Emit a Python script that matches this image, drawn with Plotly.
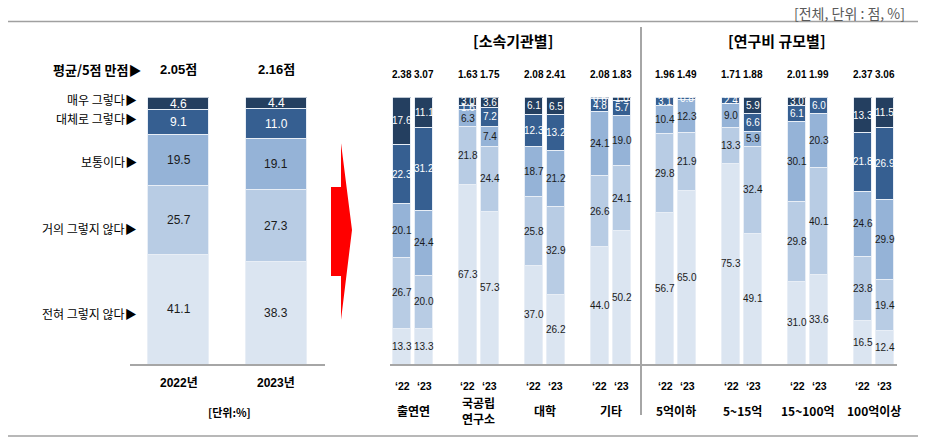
import plotly.graph_objects as go

W, H = 929, 445
FONT = "Liberation Sans, Arial, Noto Sans CJK KR, sans-serif"
KFONT = "Noto Sans CJK KR, Liberation Sans, sans-serif"

# ---- data ----
levels = ["전혀 그렇지 않다", "거의 그렇지 않다", "보통이다", "대체로 그렇다", "매우 그렇다"]
colors = ["#DBE5F1", "#B8CCE4", "#95B3D7", "#365F91", "#243F60"]
text_colors = ["#1a1a1a", "#1a1a1a", "#1a1a1a", "white", "white"]

# left panel: overall
years = ["2022년", "2023년"]
total_never = [41.1, 38.3]
total_hardly = [25.7, 27.3]
total_neutral = [19.5, 19.1]
total_mostly = [9.1, 11.0]
total_very = [4.6, 4.4]
total_mean = ["2.05점", "2.16점"]

# right panel: by group
groups = ["출연연", "국공립<br>연구소", "대학", "기타", "5억이하", "5~15억", "15~100억", "100억이상"]
year_ticks = ["‘22", "‘23"]
grp_never = [13.3, 13.3, 67.3, 57.3, 37.0, 26.2, 44.0, 50.2, 56.7, 65.0, 75.3, 49.1, 31.0, 33.6, 16.5, 12.4]
grp_hardly = [26.7, 20.0, 21.8, 24.4, 25.8, 32.9, 26.6, 24.1, 29.8, 21.9, 13.3, 32.4, 29.8, 40.1, 23.8, 19.4]
grp_neutral = [20.1, 24.4, 6.3, 7.4, 18.7, 21.2, 24.1, 19.0, 10.4, 12.3, 9.0, 5.9, 30.1, 20.3, 24.6, 29.9]
grp_mostly = [22.3, 31.2, 1.6, 7.2, 12.3, 13.2, 4.8, 5.7, 3.1, 0.8, 2.4, 6.6, 6.1, 6.0, 21.8, 26.9]
grp_very = [17.6, 11.1, 3.0, 3.6, 6.1, 6.5, 0.6, 1.0, 0, 0, 0, 5.9, 3.0, 0, 13.3, 11.5]
grp_mean = [2.38, 3.07, 1.63, 1.75, 2.08, 2.41, 2.08, 1.83,
            1.96, 1.49, 1.71, 1.88, 2.01, 1.99, 2.37, 3.06]


def px(x):
    return x / W


def py(y):
    return 1 - y / H


fig = go.Figure()
ann = []

# ---- left panel bars ----
left_series = [total_never, total_hardly, total_neutral, total_mostly, total_very]
left_x = list(range(len(years)))
for k, vals in enumerate(left_series):
    fig.add_trace(go.Bar(
        x=left_x, y=vals, width=0.63, marker=dict(color=colors[k], line=dict(color="#E8EEF6", width=1)),
        xaxis="x", yaxis="y", showlegend=False, hoverinfo="skip",
    ))
for i in left_x:
    base = 0
    for k, vals in enumerate(left_series):
        v = vals[i]
        ann.append(dict(x=i, y=base + v / 2, xref="x", yref="y", text=f"{v:.1f}",
                        showarrow=False, xanchor="center", yanchor="middle",
                        font=dict(size=12, color=text_colors[k], family=FONT)))
        base += v
    ann.append(dict(x=i, y=py(70), xref="x", yref="paper", text=f"<b>{total_mean[i]}</b>",
                    showarrow=False, xanchor="center", yanchor="middle",
                    font=dict(size=13, color="black", family=FONT)))
    ann.append(dict(x=i, y=py(383), xref="x", yref="paper", text=f"<b>{years[i]}</b>",
                    showarrow=False, xanchor="center", yanchor="middle",
                    font=dict(size=12, color="black", family=FONT)))

# left side category labels
ann.append(dict(x=px(143), y=py(70), xref="paper", yref="paper", xanchor="right", yanchor="middle",
                text="<b>평균/5점 만점▶</b>", showarrow=False,
                font=dict(size=13, color="black", family=KFONT)))
for name, ypos in zip(levels, [313, 229, 162, 118, 99]):
    ann.append(dict(x=px(139), y=py(ypos), xref="paper", yref="paper", xanchor="right", yanchor="middle",
                    text=name + "▶", showarrow=False,
                    font=dict(size=12, color="black", family=KFONT)))
ann.append(dict(x=px(229), y=py(412), xref="paper", yref="paper", xanchor="center", yanchor="middle",
                text="<b>[단위:%]</b>", showarrow=False,
                font=dict(size=11, color="black", family=KFONT)))

# ---- right panel bars ----
right_series = [grp_never, grp_hardly, grp_neutral, grp_mostly, grp_very]
right_x = []
for g in range(len(groups)):
    right_x += [g - 0.167, g + 0.167]
for k, vals in enumerate(right_series):
    fig.add_trace(go.Bar(
        x=right_x, y=vals, width=0.275, marker=dict(color=colors[k], line=dict(color="#E8EEF6", width=1)),
        xaxis="x2", yaxis="y", showlegend=False, hoverinfo="skip",
    ))
for i, xv in enumerate(right_x):
    base = 0
    for k, vals in enumerate(right_series):
        v = vals[i]
        if v > 0:
            ann.append(dict(x=xv, y=base + v / 2, xref="x2", yref="y", text=f"{v:.1f}",
                            showarrow=False, xanchor="center", yanchor="middle",
                            font=dict(size=10, color=text_colors[k], family=FONT)))
        base += v
    ann.append(dict(x=xv, y=py(74), xref="x2", yref="paper", text=f"<b>{grp_mean[i]:.2f}</b>",
                    showarrow=False, xanchor="center", yanchor="middle",
                    font=dict(size=10, color="black", family=FONT)))
    ann.append(dict(x=xv, y=py(386), xref="x2", yref="paper", text=f"<b>{year_ticks[i % 2]}</b>",
                    showarrow=False, xanchor="center", yanchor="middle",
                    font=dict(size=10.5, color="black", family=FONT)))
for g, name in enumerate(groups):
    ann.append(dict(x=g, y=py(410), xref="x2", yref="paper", text=f"<b>{name}</b>",
                    showarrow=False, xanchor="center", yanchor="middle",
                    font=dict(size=12, color="black", family=KFONT)))

# titles
ann.append(dict(x=px(513), y=py(41), xref="paper", yref="paper", xanchor="center", yanchor="middle",
                text="<b>[소속기관별]</b>", showarrow=False,
                font=dict(size=15, color="black", family=KFONT)))
ann.append(dict(x=px(777), y=py(41), xref="paper", yref="paper", xanchor="center", yanchor="middle",
                text="<b>[연구비 규모별]</b>", showarrow=False,
                font=dict(size=15, color="black", family=KFONT)))
ann.append(dict(x=px(906), y=py(13), xref="paper", yref="paper", xanchor="right", yanchor="middle",
                text="[전체, 단위 : 점, %]", showarrow=False, borderpad=0,
                font=dict(size=14, color="#595959", family=KFONT)))

# ---- decoration ----
shapes = [
    dict(type="line", xref="paper", yref="paper", x0=px(8), x1=px(918), y0=py(21.5), y1=py(21.5),
         line=dict(color="#A0A0A0", width=1.5)),
    dict(type="line", xref="paper", yref="paper", x0=px(8), x1=px(918), y0=py(436), y1=py(436),
         line=dict(color="#A0A0A0", width=1.5)),
    dict(type="line", xref="paper", yref="paper", x0=px(641), x1=px(641), y0=py(27), y1=py(415),
         line=dict(color="#A6A6A6", width=2)),
]
arrow_pts = [(331, 187), (341, 187), (341, 143), (352, 230), (341, 320), (341, 276), (331, 276)]
path = "M " + " L ".join(f"{px(a):.5f},{py(b):.5f}" for a, b in arrow_pts) + " Z"
shapes.append(dict(type="path", xref="paper", yref="paper", path=path,
                   fillcolor="#FF0000", line=dict(width=0)))

fig.update_layout(
    width=W, height=H, margin=dict(l=0, r=0, t=0, b=0),
    paper_bgcolor="white", plot_bgcolor="white",
    barmode="stack", bargap=0,
    annotations=ann, shapes=shapes,
    xaxis=dict(domain=[px(130), px(325)], range=[-0.5, 1.5], anchor="y",
               showgrid=False, zeroline=False, showticklabels=False, ticks="",
               showline=True, linecolor="#A6A6A6", linewidth=1.5),
    xaxis2=dict(domain=[px(390), px(897)], range=[-0.35, 7.35], anchor="y",
                showgrid=False, zeroline=False, showticklabels=False, ticks="",
                showline=True, linecolor="#A6A6A6", linewidth=1.5),
    yaxis=dict(domain=[py(364), py(97.5)], range=[0, 100], visible=False),
)

# drop the default page margin so the figure fills the window exactly
fig.write_html("out.html", config={"displayModeBar": False},
               post_script="document.body.style.margin = '0';")
